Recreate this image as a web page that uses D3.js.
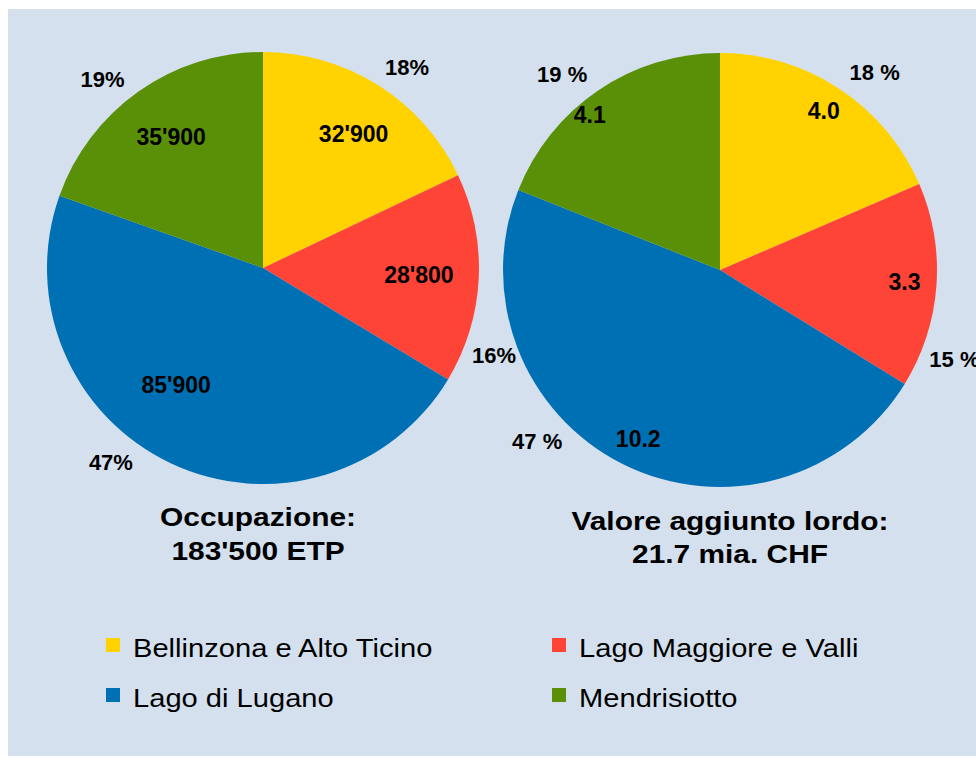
<!DOCTYPE html>
<html><head><meta charset="utf-8">
<script src="https://cdn.jsdelivr.net/npm/d3@7"></script>
<style>body{margin:0;background:#fff}svg{display:block}text{font-family:"Liberation Sans",Arial,Helvetica,sans-serif;fill:#000}</style>
</head><body><svg id="c" width="976" height="765"></svg>
<script>
// ---- data ----
const regions = ["Bellinzona e Alto Ticino", "Lago Maggiore e Valli", "Lago di Lugano", "Mendrisiotto"];
const occupazione = [32900, 28800, 85900, 35900];
const occupazionePct = [18, 16, 47, 19];
const valore = [4.0, 3.3, 10.2, 4.1];
const valorePct = [18, 15, 47, 19];
const title1 = ["Occupazione:", "183'500 ETP"];
const title2 = ["Valore aggiunto lordo:", "21.7 mia. CHF"];

// ---- style / layout ----
const colors = ["#ffd200", "#fe4436", "#0070b4", "#5a8f08"];
const svg = d3.select("#c");
svg.append("rect").attr("x", 8).attr("y", 9).attr("width", 968).attr("height", 747).attr("fill", "#d4e0ee");

const color = d3.scaleOrdinal().domain(regions).range(colors);
const loc = d3.formatLocale({decimal: ".", thousands: "'", grouping: [3], currency: ["", ""]});
const fmtInt = loc.format(",");
const fmtDec = d3.format(".1f");

const pies = [
  {cx: 263, cy: 268, r: 216, values: occupazione, pct: occupazionePct, fmt: fmtInt, pctFmt: p => p + "%",
   inner: 0.73, innerNudge: [2, 0, 11, 0], innerRs: [1.02, 0.99, 0.93, 1.01], pctR: 247, pctNudge: [3.4, 17.9, 12.7, -5.3],
   title: title1, tx: 258, ty: [526, 560]},
  {cx: 720, cy: 270, r: 217, values: valore, pct: valorePct, fmt: fmtDec, pctFmt: p => p + " %",
   inner: 0.87, innerNudge: [0, 0, -1, -6], innerRs: [1, 0.98, 1, 1.07], pctR: 251, pctNudge: [4.7, 16.8, 20.1, -4.8],
   title: title2, tx: 730, ty: [530, 563]}
];

const rad = Math.PI / 180;
pies.forEach(P => {
  const g = svg.append("g").attr("transform", `translate(${P.cx},${P.cy})`);
  const arcs = d3.pie().sort(null).value(d => d.v)(P.values.map((v, i) => ({v, i, name: regions[i]})));
  const arc = d3.arc().innerRadius(0).outerRadius(P.r);
  g.selectAll("path.s").data(arcs).join("path").attr("class", "s")
    .attr("d", arc).attr("fill", d => color(d.data.name));
  const pos = (a, r) => [Math.sin(a) * r, -Math.cos(a) * r];
  g.selectAll("text.v").data(arcs).join("text").attr("class", "v")
    .attr("transform", d => {
      const a = (d.startAngle + d.endAngle) / 2 + P.innerNudge[d.data.i] * rad;
      const [x, y] = pos(a, P.r * P.inner * P.innerRs[d.data.i]);
      return `translate(${x},${y})`;
    })
    .attr("text-anchor", "middle").attr("dy", "0.3em")
    .style("font-weight", "bold").style("font-size", "23px")
    .text(d => P.fmt(d.data.v));
  g.selectAll("text.p").data(arcs).join("text").attr("class", "p")
    .attr("transform", d => {
      const a = (d.startAngle + d.endAngle) / 2 + P.pctNudge[d.data.i] * rad;
      const [x, y] = pos(a, P.pctR);
      return `translate(${x},${y})`;
    })
    .attr("text-anchor", "middle").attr("dy", "0.33em")
    .style("font-weight", "bold").style("font-size", "22px")
    .text(d => P.pctFmt(P.pct[d.data.i]));
  P.title.forEach((t, k) => {
    svg.append("text").attr("transform", `translate(${P.tx},${P.ty[k]}) scale(1.15,1)`)
      .attr("text-anchor", "middle").style("font-weight", "bold").style("font-size", "26px").text(t);
  });
});

// legend
const legPos = [[106, 638], [552, 638], [106, 688], [552, 688]];
const leg = svg.append("g");
regions.forEach((name, i) => {
  const [x, y] = legPos[i];
  leg.append("rect").attr("x", x).attr("y", y).attr("width", 14).attr("height", 14).attr("fill", color(name));
  leg.append("text").attr("transform", `translate(${x + 27},${y + 19}) scale(1.12,1)`)
    .style("font-size", "26px").text(name);
});
</script></body></html>
